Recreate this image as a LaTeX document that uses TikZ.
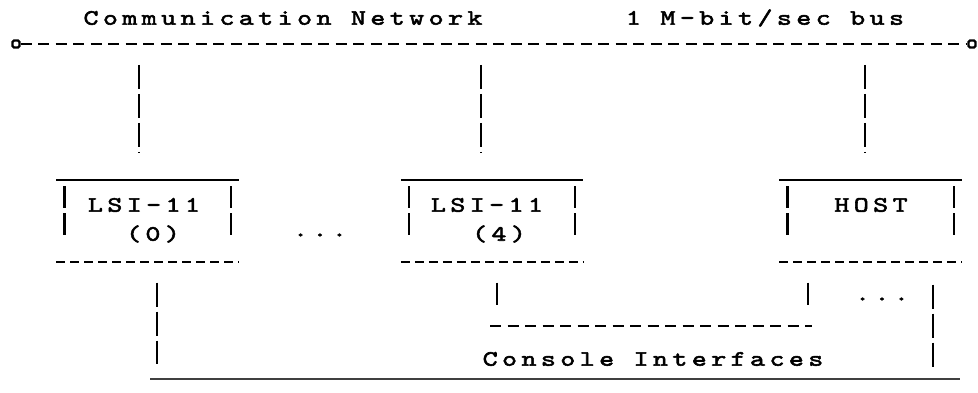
\documentclass[tikz,border=0pt]{standalone}
\usepackage{fontspec}
\newfontfamily\typewriter{lmmono10-regular.otf}[LetterSpace=20, FakeBold=2.5, FakeStretch=1.3]
\usetikzlibrary{positioning}

\tikzset{
  typed/.style={font=\typewriter\fontsize{22}{25}\selectfont, inner sep=0pt},
  hyphens/.style={dash pattern=on 11pt off 6.5pt},
  shorthyphens/.style={dash pattern=on 9pt off 5pt},
  bars/.style={dash pattern=on 24pt off 5pt},
  unit/.style={minimum width=180pt, minimum height=79pt, inner sep=0pt},
  terminal/.style={draw, rectangle, rounded corners=1.5pt, minimum width=7pt, minimum height=7pt, inner sep=0pt}
}

\begin{document}
\begin{tikzpicture}[x=1pt, y=-1pt, line width=2.2pt]
        \useasboundingbox (0,0) rectangle (978,393);

        % headings
        \node[typed] (title) at (283,18) {Communication Network};
        \node[typed] (rate) at (765,18) {1 M-bit/sec bus};

        % the bus
        \node[terminal] (termL) at (16,44) {};
        \node[terminal] (termR) at (972,44) {};
        \draw[hyphens] (termL.east) -- (termR.west);

        % machines on the bus
        \node[unit] (lsi0) at (147.5,221) {};
        \node[unit] (lsi4) at (492,221) {};
        \node[unit] (host) at (870.5,221) {};
        \foreach \b in {lsi0,lsi4,host} {
          \draw (\b.north west) -- (\b.north east);
          \draw[shorthyphens] (\b.south west) -- (\b.south east);
          \draw[dash pattern=on 22pt off 5pt] ([xshift=8pt,yshift=-6pt]\b.north west) -- ([xshift=8pt,yshift=22pt]\b.south west);
          \draw[dash pattern=on 22pt off 5pt] ([xshift=-8pt,yshift=-6pt]\b.north east) -- ([xshift=-8pt,yshift=22pt]\b.south east);
        }
        \node[typed] (lsi0a) at (144,205) {LSI-11};
        \node[typed] (lsi0b) at (153,234) {(0)};
        \node[typed] (lsi4a) at (487,205) {LSI-11};
        \node[typed] (lsi4b) at (499,234) {(4)};
        \node[typed] (hosta) at (871,205) {HOST};
        \node[typed] (gap) at (320,235) {...};

        % taps from the bus
        \coordinate (tap0) at (139,44);
        \coordinate (tap4) at (481,44);
        \coordinate (taph) at (865,44);
        \foreach \t/\b in {tap0/lsi0,tap4/lsi4,taph/host}
          \draw[bars, shorten <=21pt, shorten >=28pt] (\t) -- (\t |- \b.north);

        % console side
        \coordinate (conL) at (490,326);
        \coordinate (conR) at (812,326);
        \coordinate (backL) at (150,379);
        \coordinate (backR) at (960,379);
        \draw[hyphens] (conL) -- (conR);
        \node[typed] (console) at (653,359) {Console Interfaces};
        \node[typed] (more) at (882,299) {...};
        \draw[bars, shorten <=21pt, shorten >=15pt] (lsi0.south -| 157,0) -- (backL -| 157,0);
        \draw[bars, shorten <=21pt, shorten >=21pt] (lsi4.south -| 497,0) -- (conL -| 497,0);
        \draw[bars, shorten <=21pt, shorten >=21pt] (host.south -| 808,0) -- (conR -| 808,0);
        \draw[bars, shorten <=23pt, shorten >=11pt] (host.south -| 933,0) -- (backR -| 933,0);
        \draw[black!75, line width=2pt] (backL) -- (backR);
\end{tikzpicture}
\end{document}
